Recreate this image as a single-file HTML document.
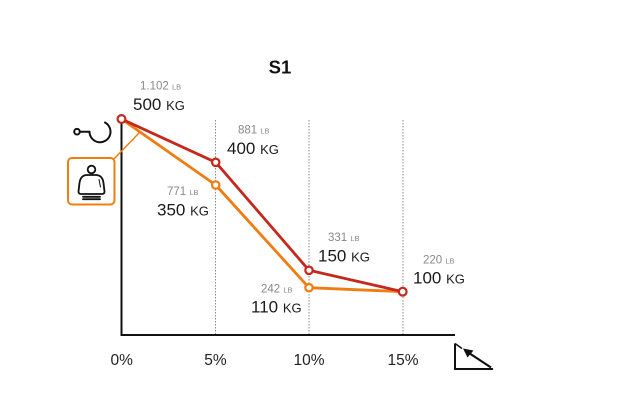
<!DOCTYPE html>
<html>
<head>
<meta charset="utf-8">
<style>
  html, body { margin: 0; padding: 0; background: #ffffff; }
  body { width: 629px; height: 419px; overflow: hidden; }
  svg { display: block; }
  text { font-family: "Liberation Sans", "DejaVu Sans", sans-serif; }
</style>
</head>
<body>
<svg width="629" height="419" viewBox="0 0 629 419" xmlns="http://www.w3.org/2000/svg">
  <rect width="629" height="419" fill="#ffffff"/>

  <!-- Title -->
  <text x="280" y="73.5" text-anchor="middle" font-size="18.5" font-weight="bold" fill="#111">S1</text>

  <!-- dotted gridlines -->
  <g stroke="#8a8a8a" stroke-width="1" stroke-dasharray="1.5,1.5">
    <line x1="215.5" y1="120" x2="215.5" y2="335"/>
    <line x1="309" y1="120" x2="309" y2="335"/>
    <line x1="403" y1="120" x2="403" y2="335"/>
  </g>

  <!-- axes -->
  <line x1="121.5" y1="119" x2="121.5" y2="336" stroke="#111" stroke-width="2"/>
  <line x1="120.5" y1="335" x2="455" y2="335" stroke="#111" stroke-width="2"/>

  <!-- connector from icon box -->
  <line x1="114" y1="159" x2="139" y2="133" stroke="#f07d12" stroke-width="1.5"/>

  <!-- orange series -->
  <polyline points="121.5,119 215.7,185 309,287.7 402.7,291.7" fill="none" stroke="#f07d12" stroke-width="2.8" stroke-linejoin="round"/>
  <!-- red series -->
  <polyline points="121.5,119 215.7,162.3 309,270.3 402.7,291.7" fill="none" stroke="#c5281c" stroke-width="2.8" stroke-linejoin="round"/>

  <!-- markers -->
  <g fill="#ffffff" stroke-width="2.2">
    <circle cx="215.7" cy="185" r="3.7" stroke="#f07d12"/>
    <circle cx="309" cy="287.7" r="3.7" stroke="#f07d12"/>
    <circle cx="121.5" cy="119" r="3.9" stroke="#c5281c"/>
    <circle cx="215.7" cy="162.3" r="3.7" stroke="#c5281c"/>
    <circle cx="309" cy="270.3" r="3.7" stroke="#c5281c"/>
    <circle cx="402.7" cy="291.7" r="3.9" stroke="#c5281c"/>
  </g>

  <!-- hook icon -->
  <g fill="none" stroke="#111" stroke-width="2" stroke-linecap="round">
    <circle cx="77" cy="131.7" r="2.8"/>
    <line x1="79.8" y1="131.7" x2="89.5" y2="131.7"/>
    <path d="M89.5,131.7 A10.5 10.5 0 1 0 105,122.5"/>
  </g>

  <!-- weight icon in orange box -->
  <rect x="68" y="158" width="46.5" height="46.5" rx="4" ry="4" fill="#ffffff" stroke="#f07d12" stroke-width="2"/>
  <g fill="none" stroke="#111" stroke-width="1.8" stroke-linecap="round" stroke-linejoin="round">
    <circle cx="91.5" cy="169.5" r="3.8"/>
    <path d="M86.5,175 L96.5,175 Q102.5,175.5 103.5,183 L104.5,191.5 Q104.5,194 102,194 L81,194 Q78.5,194 78.5,191.5 L79.5,183 Q80.5,175.5 86.5,175 Z"/>
    <line x1="83" y1="196.8" x2="100" y2="196.8"/>
    <line x1="83" y1="199.2" x2="100" y2="199.2"/>
    <line x1="99" y1="179.5" x2="100.5" y2="187" stroke-width="1"/>
  </g>

  <!-- data labels -->
  <g>
    <text x="140" y="89.3" font-size="11.5" fill="#888">1.102 <tspan font-size="7.5">LB</tspan></text>
    <text x="133" y="110" font-size="17" fill="#1a1a1a">500 <tspan font-size="13">KG</tspan></text>

    <text x="238" y="133.3" font-size="11.5" fill="#888">881 <tspan font-size="7.5">LB</tspan></text>
    <text x="227" y="154" font-size="17" fill="#1a1a1a">400 <tspan font-size="13">KG</tspan></text>

    <text x="167" y="195" font-size="11.5" fill="#888">771 <tspan font-size="7.5">LB</tspan></text>
    <text x="157" y="215.7" font-size="17" fill="#1a1a1a">350 <tspan font-size="13">KG</tspan></text>

    <text x="328" y="241" font-size="11.5" fill="#888">331 <tspan font-size="7.5">LB</tspan></text>
    <text x="318" y="261.7" font-size="17" fill="#1a1a1a">150 <tspan font-size="13">KG</tspan></text>

    <text x="261" y="292.7" font-size="11.5" fill="#888">242 <tspan font-size="7.5">LB</tspan></text>
    <text x="251" y="312.7" font-size="17" fill="#1a1a1a">110 <tspan font-size="13">KG</tspan></text>

    <text x="423" y="263.3" font-size="11.5" fill="#888">220 <tspan font-size="7.5">LB</tspan></text>
    <text x="413" y="283.3" font-size="17" fill="#1a1a1a">100 <tspan font-size="13">KG</tspan></text>
  </g>

  <!-- x-axis labels -->
  <g font-size="15.5" fill="#222" text-anchor="middle">
    <text x="121.7" y="365">0%</text>
    <text x="215.5" y="365">5%</text>
    <text x="309" y="365">10%</text>
    <text x="403" y="365">15%</text>
  </g>

  <!-- slope icon -->
  <g fill="none" stroke="#111" stroke-width="2" stroke-linejoin="miter">
    <polyline points="455,343.5 455,369 493,369"/>
    <line x1="455" y1="343.5" x2="462" y2="348.5" stroke-width="1.5"/>
    <line x1="491" y1="367.5" x2="469" y2="353" stroke-width="2.2"/>
  </g>
  <polygon points="463,348.5 473.5,350.5 467.5,357.5" fill="#111"/>
</svg>
</body>
</html>
